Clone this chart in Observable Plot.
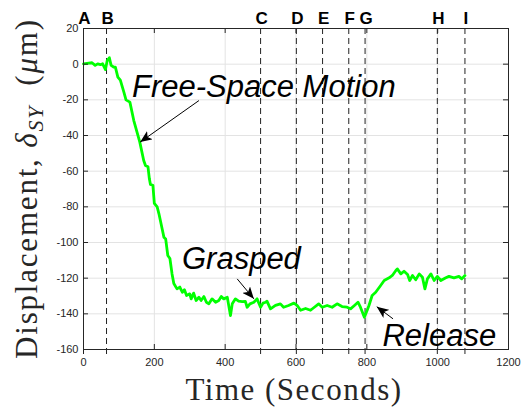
<!DOCTYPE html>
<html><head><meta charset="utf-8">
<script src="https://cdn.jsdelivr.net/npm/d3@7"></script>
<script src="https://cdn.jsdelivr.net/npm/@observablehq/plot@0.6"></script>
<style>body{margin:0;background:#fff}</style>
</head><body><div id="chart"></div>
<script>
// Data
const time = [0,10,24,33,40,48,54,62,67,73,78,86,90,97,104,114,120,131,142,159,170,175,182,186,189,196,200,208,213,222,227,232,238,244,250,255,264,272,279,285,291,300,304,311,318,326,332,340,347,354,363,373,382,389,396,406,415,420,429,438,448,457,462,470,481,490,500,507,514,518,528,542,556,565,579,594,603,613,627,641,650,664,674,688,702,716,730,744,754,765,775,782,793,801,806,815,825,839,849,863,872,882,886,896,905,915,921,929,938,948,957,964,971,981,990,999,1009,1023,1032,1046,1060,1068,1077];
const disp = [0.2,0.5,0.8,-0.7,0.2,-0.3,0.2,-3,2,3.6,-0.7,-1.7,-1.7,-7.3,-9,-15.7,-20,-21.3,-31.6,-43.7,-54,-56.8,-57.5,-64.3,-67.5,-68,-78,-80,-83.9,-92.3,-97,-98,-107.3,-109,-117.6,-123,-126,-125,-127.9,-126.5,-129.7,-128.8,-131.6,-128.4,-132.5,-130.7,-132.5,-130.3,-133.5,-134.4,-131.6,-133.5,-132.5,-130.3,-131.6,-130.7,-141,-134.4,-131.6,-132.9,-133.1,-133,-136.3,-134.4,-133.5,-131.6,-136.3,-134,-133.5,-132.9,-137.2,-135.3,-134.4,-136.3,-135.3,-134,-135.3,-138,-137,-138,-136.6,-134.4,-136.3,-135.3,-136.3,-134.4,-135.9,-136.3,-137.2,-135.3,-133.5,-136.3,-141.9,-138,-135.3,-129.7,-127.9,-124.1,-121.3,-119.8,-118.5,-115.7,-114.8,-117.6,-116.1,-118,-121.3,-118.5,-120.9,-117.6,-119.5,-126,-120.4,-117.6,-121.3,-119,-121.3,-119.8,-119,-119.8,-119,-120.4,-118.5];
const eventLabels = ["A","B","C","D","E","F","G","H","I"];
const eventTimes = [0,65,500,601,675,749,795,999,1077];
const xTicks = [0,200,400,600,800,1000,1200];
const yTicks = [20,0,-20,-40,-60,-80,-100,-120,-140,-160];
const noteTexts = ["Free-Space Motion","Grasped","Release"];
const noteT = [137,278,844];
const noteV = [-18.5,-114.7,-157.8];
const arrowFromT = [326,434,874];
const arrowFromV = [-20.4,-120.4,-142.8];
const arrowToT = [160,481,828];
const arrowToV = [-43.7,-131.6,-136];

const series = time.map((t,i)=>({t, v: disp[i]}));
const events = eventTimes.map((t,i)=>({t, label: eventLabels[i]}));
const notes = noteTexts.map((s,i)=>({s, t: noteT[i], v: noteV[i]}));
const arrows = arrowFromT.map((t,i)=>({x1:t, y1:arrowFromV[i], x2:arrowToT[i], y2:arrowToV[i]}));

const W = 524, H = 410, mL = 83, mR = 16, mT = 28, mB = 61;
const pw = W - mL - mR, ph = H - mT - mB, tk = 5;
const axisColor = "#262626";

const plot = Plot.plot({
  width: W, height: H,
  marginLeft: mL, marginRight: mR, marginTop: mT, marginBottom: mB,
  style: {fontFamily: "'Liberation Sans', Arial, Helvetica, sans-serif", fontSize: "11px", color: axisColor, background: "#fff"},
  x: {domain: [0,1200]},
  y: {domain: [-160,20]},
  marks: [
    Plot.gridX(xTicks, {stroke: "#e3e3e3", strokeOpacity: 1}),
    Plot.gridY(yTicks, {stroke: "#e3e3e3", strokeOpacity: 1}),
    Plot.ruleX(events, {x: "t", y1: 20, y2: -164.5, stroke: "#222", strokeWidth: 1, strokeDasharray: "6,4"}),
    Plot.line(series, {x: "t", y: "v", stroke: "#00ff00", strokeWidth: 2.8}),
    Plot.frame({stroke: axisColor}),
    Plot.tickX(xTicks, {x: d=>d, insetTop: ph - tk, stroke: axisColor}),
    Plot.tickX(xTicks, {x: d=>d, insetBottom: ph - tk, stroke: axisColor}),
    Plot.tickY(yTicks, {y: d=>d, insetRight: pw - tk, stroke: axisColor}),
    Plot.tickY(yTicks, {y: d=>d, insetLeft: pw - tk, stroke: axisColor}),
    Plot.axisX(xTicks, {tickSize: 0, tickPadding: 9, label: null, tickFormat: d=>String(d)}),
    Plot.axisY(yTicks, {tickSize: 0, tickPadding: 5, label: null, tickFormat: d=>String(d)}),
    Plot.text(events, {x: "t", text: "label", frameAnchor: "top", dy: -5, dx: 1, lineAnchor: "bottom", fontWeight: "bold", fontSize: 17, fill: "#000"}),
    Plot.link(arrows, {x1: "x1", y1: "y1", x2: "x2", y2: "y2", stroke: "#000", strokeWidth: 1}),
    Plot.text(notes, {x: "t", y: "v", text: "s", textAnchor: "start", lineAnchor: "bottom", fontStyle: "italic", fontSize: 31, fill: "#000"}),
    Plot.text(["Time (Seconds)"], {frameAnchor: "bottom", dy: 50, dx: -2, lineAnchor: "bottom", fontFamily: "'Liberation Serif', 'Times New Roman', serif", fontSize: 31, fill: axisColor})
  ]
});
document.getElementById("chart").appendChild(plot);

const svg = d3.select(plot);
// letter spacing for serif axis titles
svg.selectAll("text").filter(function(){return this.textContent === "Time (Seconds)";}).style("letter-spacing", "1.5px");

// arrowheads
const defs = svg.insert("defs", ":first-child");
defs.append("marker").attr("id", "ah").attr("viewBox", "0 0 12 10")
  .attr("refX", 12).attr("refY", 5).attr("markerWidth", 12).attr("markerHeight", 10)
  .attr("markerUnits", "userSpaceOnUse").attr("orient", "auto")
  .append("path").attr("d", "M0,0L12,5L0,10L3,5Z").attr("fill", "#000");
svg.selectAll('g[aria-label="link"] path').attr("marker-end", "url(#ah)");

// y axis title with subscript
const yt = svg.append("text")
  .attr("transform", `translate(37,${mT + ph/2}) rotate(-90)`)
  .attr("text-anchor", "middle")
  .attr("font-family", "'Liberation Serif', 'Times New Roman', serif")
  .attr("font-size", 31).attr("fill", axisColor)
  .style("letter-spacing", "1.8px");
yt.append("tspan").text("Displacement, ");
yt.append("tspan").attr("font-style", "italic").text("δ");
yt.append("tspan").attr("font-style", "italic").attr("font-size", 22).attr("dy", 6).text("SY");
yt.append("tspan").attr("dy", -6).text("\u00a0\u00a0(");
yt.append("tspan").attr("font-style", "italic").text("μ");
yt.append("tspan").text("m)");
</script>
</body></html>
